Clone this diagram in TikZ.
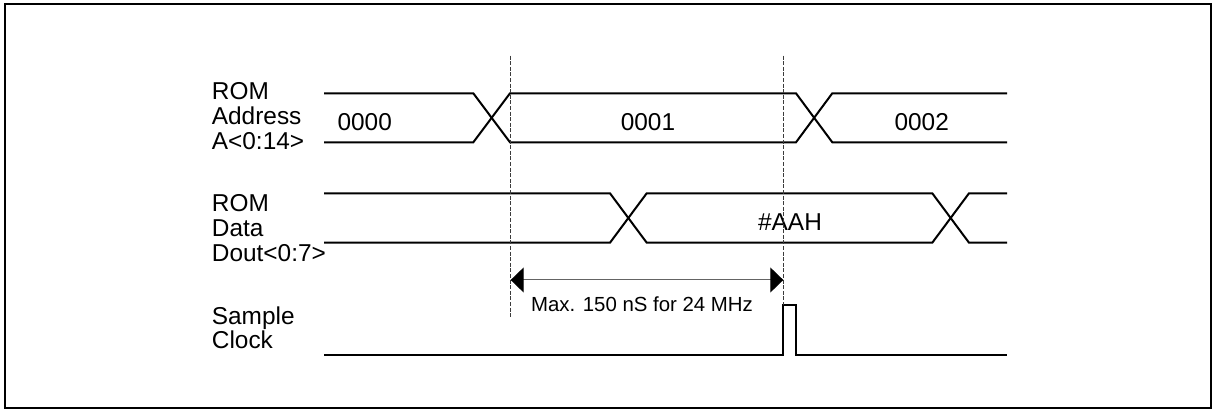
\documentclass[tikz,border=0pt]{standalone}
\usepackage{fontspec}
\setmainfont{Liberation Sans}
\usetikzlibrary{arrows.meta,calc,positioning}
\definecolor{guide}{RGB}{60,60,60}
\definecolor{dimline}{RGB}{100,100,100}

\begin{document}
\begin{tikzpicture}[x=0.5pt,y=-0.5pt,
  wave/.style={line width=1pt,line join=miter},
  guideline/.style={guide,line width=0.5pt,dash pattern=on 2pt off 0.8pt},
  sig/.style={font=\fontsize{12.2}{12.35}\selectfont,align=left,anchor=north west,inner sep=0pt},
  val/.style={font=\fontsize{12.2}{12.2}\selectfont,anchor=base,inner sep=0pt}]
  \useasboundingbox (0,0) rectangle (1212,410);
  \draw[line width=1pt] (4.5,4.5) rectangle (1210.5,408.5);

  % signal names
  \node[sig] (addrlbl) at (211.5,82.5) {ROM\\Address\\A<0:14>};
  \node[sig] (datalbl) at (211.5,194.5) {ROM\\Data\\Dout<0:7>};
  \node[sig] (clklbl) at (211.5,306) {Sample\\Clock};

  % bus waveforms: top, bottom, transitions
  \foreach \yt/\yb/\a/\b/\c/\d in {93.3/142.3/473.3/510/796/832.3, 193.3/242.7/610/646.7/932.3/969} {
    \draw[wave] (324,\yt) -- (\a,\yt) -- (\b,\yb) -- (\c,\yb) -- (\d,\yt) -- (1007,\yt);
    \draw[wave] (324,\yb) -- (\a,\yb) -- (\b,\yt) -- (\c,\yt) -- (\d,\yb) -- (1007,\yb);
  }
  \node[val] (a0) at (364.7,130.5) {0000};
  \node[val] (a1) at (648,130.5) {0001};
  \node[val] (a2) at (921.7,130.5) {0002};
  \node[val] (dv) at (790,230.5) {\#AAH};

  % sample clock
  \draw[wave] (324,355) -- (783.3,355) -- (783.3,305) -- (795.7,305) -- (795.7,355) -- (1007,355);

  % timing marks
  \coordinate (g1top) at (510.7,55.7);
  \coordinate (g1bot) at (510.7,316.7);
  \coordinate (g2top) at (783.3,55.7);
  \coordinate (g2bot) at (783.3,305);
  \draw[guideline] (g1top) -- (g1bot);
  \draw[guideline] (g2top) -- (g2bot);
  \coordinate (m1) at (g1top |- 0,280);
  \coordinate (m2) at (g2top |- 0,280);
  \draw[dimline,line width=0.5pt,{Triangle[length=6.5pt,width=12.5pt,black]}-{Triangle[length=6.5pt,width=12.5pt,black]}] (m1) -- (m2);
  \node[font=\fontsize{10.2}{10.2}\selectfont,anchor=base,inner sep=0pt] (maxlbl) at (642,312) {Max. 150 nS for 24 MHz};
\end{tikzpicture}
\end{document}
